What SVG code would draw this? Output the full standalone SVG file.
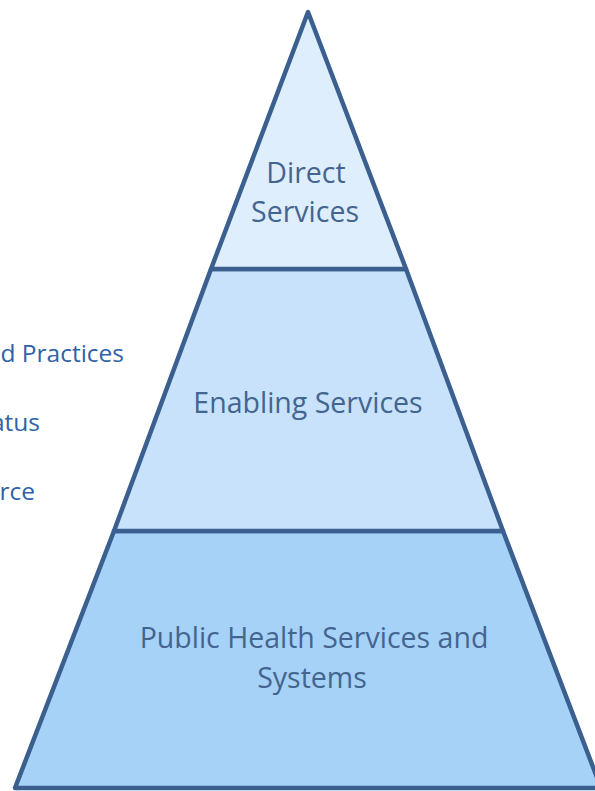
<svg xmlns="http://www.w3.org/2000/svg" width="595" height="791" viewBox="0 0 595 791">
<style>
.tier{stroke:#3B5F8E;stroke-width:4.5;stroke-linejoin:round}
.lbl{font-family:"Open Sans","Noto Sans",sans-serif;font-size:28.5px;fill:#43658F;text-anchor:middle}
.side{font-family:"Open Sans","Noto Sans",sans-serif;font-size:24.5px;fill:#2F62A6;text-anchor:end}
</style>
<rect width="595" height="791" fill="#ffffff"/>
<g id="side-labels">
<text class="side" x="124" y="362">d Practices</text>
<text class="side" x="40" y="431">atus</text>
<text class="side" x="35" y="500">rce</text>
</g>
<g id="tier-bottom">
<polygon class="tier" fill="#A7D2F8" points="114,531 503,531 601,788 15,788"/>
<text class="lbl" x="314" y="648">Public Health Services and</text>
<text class="lbl" x="312" y="688">Systems</text>
</g>
<g id="tier-middle">
<polygon class="tier" fill="#C7E2FA" points="211,269 406,269 503,531 114,531"/>
<text class="lbl" x="308" y="413">Enabling Services</text>
</g>
<g id="tier-top">
<polygon class="tier" fill="#DFEEFC" points="308,12 406,269 211,269"/>
<text class="lbl" x="306" y="183">Direct</text>
<text class="lbl" x="305" y="222">Services</text>
</g>
</svg>
